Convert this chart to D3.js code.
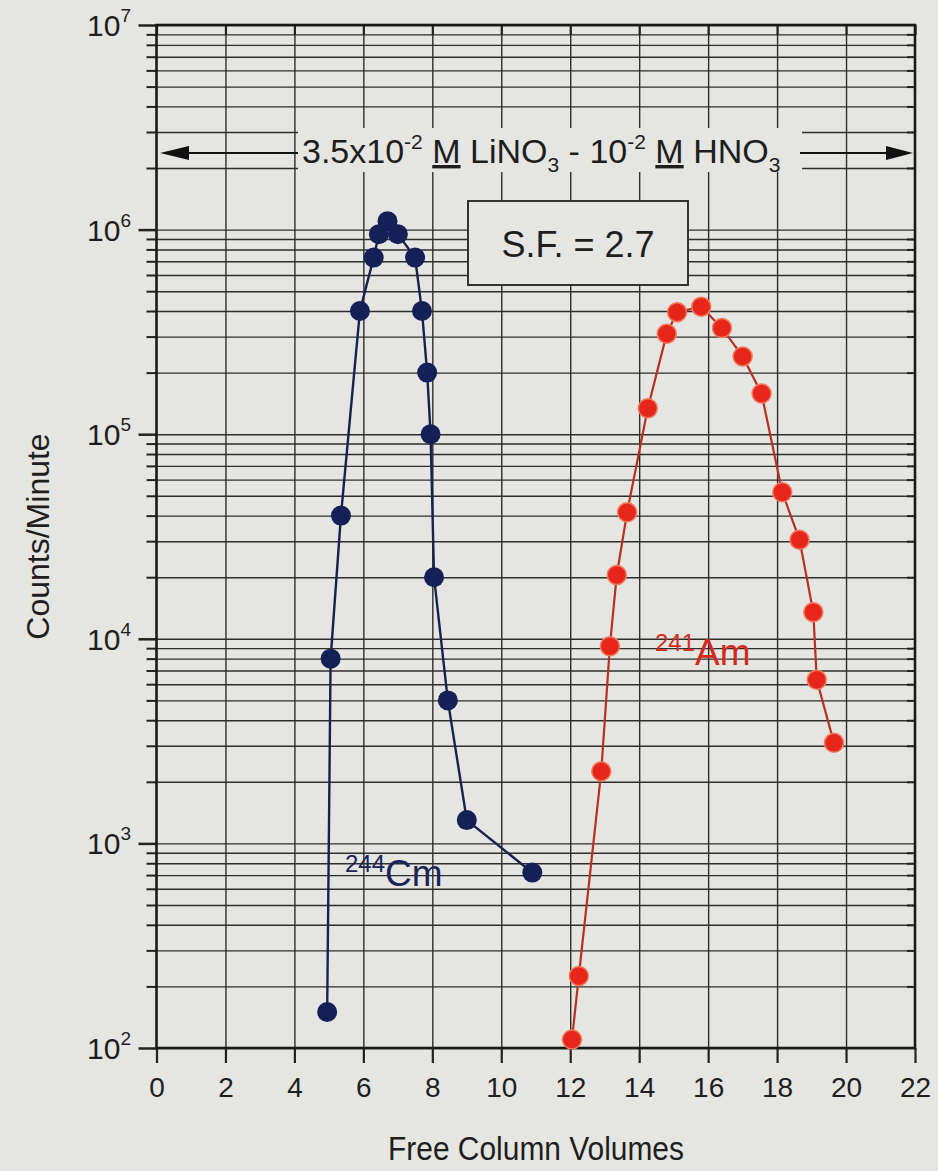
<!DOCTYPE html>
<html>
<head>
<meta charset="utf-8">
<script src="https://cdn.jsdelivr.net/npm/d3@7"></script>
<style>
  body { margin: 0; background: #e5e5e2; }
  svg text { font-family: "Liberation Sans", Arial, sans-serif; fill: #1e1e1e; }
</style>
</head>
<body>
<div id="chart"></div>
<script>
// Data
var cmX = [4.95, 5.05, 5.35, 5.9, 6.3, 6.45, 6.7, 7.0, 7.5, 7.7, 7.85, 7.95, 8.05, 8.45, 9.0, 10.9];
var cmY = [150, 8000, 40000, 400000, 730000, 950000, 1100000, 950000, 730000, 400000, 200000, 100000, 20000, 5000, 1300, 720];
var amX = [12.05, 12.25, 12.9, 13.15, 13.35, 13.65, 14.25, 14.8, 15.1, 15.8, 16.4, 17.0, 17.55, 18.15, 18.65, 19.05, 19.15, 19.65];
var amY = [110, 225, 2250, 9200, 20500, 41500, 134000, 310000, 395000, 420000, 330000, 240000, 158000, 52000, 30500, 13500, 6300, 3100];
var xTicks = [0, 2, 4, 6, 8, 10, 12, 14, 16, 18, 20, 22];
var yMajor = [2, 3, 4, 5, 6, 7];   // exponents of ten

// Set the dimensions of the SVG
var svgWidth = 938;
var svgHeight = 1171;
var plot = { left: 156.5, right: 915, top: 25, bottom: 1048 };

var svg = d3.select("#chart")
  .append("svg")
  .attr("width", svgWidth)
  .attr("height", svgHeight);

var xScale = d3.scaleLinear().domain([0, 22]).range([plot.left, plot.right]);
var yScale = d3.scaleLog().domain([1e2, 1e7]).range([plot.bottom, plot.top]);

// minor values 2..9 in every decade
var yMinor = [];
for (var e = 2; e < 7; e++) {
  for (var m = 2; m <= 9; m++) yMinor.push(m * Math.pow(10, e));
}
var yAllLines = yMinor.concat(yMajor.map(d => Math.pow(10, d)));

// Horizontal grid lines
svg.append("g")
  .attr("transform", `translate(${plot.left}, 0)`)
  .call(d3.axisLeft(yScale).tickValues(yAllLines).tickSize(-(plot.right - plot.left)).tickFormat(""))
  .call(g => g.select(".domain").remove())
  .call(g => g.selectAll("line").attr("stroke", "#2e2e2e").attr("stroke-width", 1.4));

// Vertical grid lines
svg.append("g")
  .attr("transform", `translate(0, ${plot.bottom})`)
  .call(d3.axisBottom(xScale).tickValues(xTicks.slice(1, -1)).tickSize(-(plot.bottom - plot.top)).tickFormat(""))
  .call(g => g.select(".domain").remove())
  .call(g => g.selectAll("line").attr("stroke", "#2e2e2e").attr("stroke-width", 1.4));

// Background patch behind the eluent annotation
svg.append("rect")
  .attr("x", 298).attr("y", 128)
  .attr("width", 504).attr("height", 44)
  .attr("fill", "#e5e5e2");

// Left axis ticks (outer)
svg.append("g")
  .attr("transform", `translate(${plot.left}, 0)`)
  .call(d3.axisLeft(yScale).tickValues(yMinor).tickSize(10).tickFormat(""))
  .call(g => g.select(".domain").remove())
  .call(g => g.selectAll("line").attr("stroke", "#222").attr("stroke-width", 2));

svg.append("g")
  .attr("transform", `translate(${plot.left}, 0)`)
  .call(d3.axisLeft(yScale).tickValues(yMajor.map(d => Math.pow(10, d))).tickSize(18).tickFormat(""))
  .call(g => g.select(".domain").remove())
  .call(g => g.selectAll("line").attr("stroke", "#222").attr("stroke-width", 2.5));

// Right axis ticks (inner)
svg.append("g")
  .attr("transform", `translate(${plot.right}, 0)`)
  .call(d3.axisLeft(yScale).tickValues(yMinor).tickSize(8).tickFormat(""))
  .call(g => g.select(".domain").remove())
  .call(g => g.selectAll("line").attr("stroke", "#222").attr("stroke-width", 2));

// Bottom axis ticks + labels
svg.append("g")
  .attr("transform", `translate(0, ${plot.bottom})`)
  .call(d3.axisBottom(xScale).tickValues(xTicks).tickSize(15).tickPadding(14))
  .call(g => g.select(".domain").remove())
  .call(g => g.selectAll("line").attr("stroke", "#222").attr("stroke-width", 2.2))
  .call(g => g.selectAll("text").attr("font-size", 28).attr("fill", "#1e1e1e"));

// Top axis ticks (inner)
svg.append("g")
  .attr("transform", `translate(0, ${plot.top})`)
  .call(d3.axisBottom(xScale).tickValues(xTicks).tickSize(10).tickFormat(""))
  .call(g => g.select(".domain").remove())
  .call(g => g.selectAll("line").attr("stroke", "#222").attr("stroke-width", 2.2));

// Frame
svg.append("rect")
  .attr("x", plot.left).attr("y", plot.top)
  .attr("width", plot.right - plot.left).attr("height", plot.bottom - plot.top)
  .attr("fill", "none").attr("stroke", "#1a1a1a").attr("stroke-width", 2.6);

// Y tick labels: 10^n
var yLabels = svg.append("g").selectAll("text")
  .data(yMajor)
  .enter()
  .append("text")
  .attr("x", 131)
  .attr("y", d => yScale(Math.pow(10, d)) + 11)
  .attr("text-anchor", "end")
  .attr("font-size", 30);
yLabels.append("tspan").text("10");
yLabels.append("tspan").attr("font-size", 19).attr("dy", -14).text(d => d);

// Axis titles
svg.append("text")
  .attr("transform", `translate(49, ${(plot.top + plot.bottom) / 2}) rotate(-90)`)
  .attr("text-anchor", "middle")
  .attr("font-size", 32)
  .text("Counts/Minute");

svg.append("text")
  .attr("transform", "translate(536, 1160) scale(0.88, 1)")
  .attr("text-anchor", "middle")
  .attr("font-size", 34)
  .text("Free Column Volumes");

// Eluent annotation with arrows
var arrowY = 153;
svg.append("line")
  .attr("x1", 185).attr("x2", 298).attr("y1", arrowY).attr("y2", arrowY)
  .attr("stroke", "#111").attr("stroke-width", 2);
svg.append("path")
  .attr("d", `M160,${arrowY} L189,${arrowY - 7} L189,${arrowY + 7} Z`)
  .attr("fill", "#111");
svg.append("line")
  .attr("x1", 800).attr("x2", 890).attr("y1", arrowY).attr("y2", arrowY)
  .attr("stroke", "#111").attr("stroke-width", 2);
svg.append("path")
  .attr("d", `M913,${arrowY} L886,${arrowY - 7} L886,${arrowY + 7} Z`)
  .attr("fill", "#111");

var eluent = svg.append("text")
  .attr("x", 302).attr("y", 163)
  .attr("font-size", 34);
eluent.append("tspan").text("3.5x10");
eluent.append("tspan").attr("font-size", 21).attr("dy", -14).text("-2");
eluent.append("tspan").attr("dy", 14).text(" ");
eluent.append("tspan").attr("text-decoration", "underline").text("M");
eluent.append("tspan").text(" LiNO");
eluent.append("tspan").attr("font-size", 21).attr("dy", 9).text("3");
eluent.append("tspan").attr("dy", -9).text(" - 10");
eluent.append("tspan").attr("font-size", 21).attr("dy", -14).text("-2");
eluent.append("tspan").attr("dy", 14).text(" ");
eluent.append("tspan").attr("text-decoration", "underline").text("M");
eluent.append("tspan").text(" HNO");
eluent.append("tspan").attr("font-size", 21).attr("dy", 9).text("3");

// S.F. box
svg.append("rect")
  .attr("x", 468).attr("y", 201)
  .attr("width", 220).attr("height", 84)
  .attr("fill", "#e5e5e2").attr("stroke", "#333").attr("stroke-width", 2);
svg.append("text")
  .attr("x", 578).attr("y", 257)
  .attr("text-anchor", "middle")
  .attr("font-size", 36)
  .text("S.F. = 2.7");

// Series
var cmData = cmX.map((d, i) => ({ x: d, y: cmY[i] }));
var amData = amX.map((d, i) => ({ x: d, y: amY[i] }));

var line = d3.line()
  .x(d => xScale(d.x))
  .y(d => yScale(d.y));

svg.append("path")
  .datum(cmData)
  .attr("d", line)
  .attr("fill", "none")
  .attr("stroke", "#19224f")
  .attr("stroke-width", 2.4);

svg.append("path")
  .datum(amData)
  .attr("d", line)
  .attr("fill", "none")
  .attr("stroke", "#b8301f")
  .attr("stroke-width", 2.2);

svg.append("g")
  .selectAll("circle")
  .data(cmData)
  .enter()
  .append("circle")
  .attr("cx", d => xScale(d.x))
  .attr("cy", d => yScale(d.y))
  .attr("r", 10)
  .attr("fill", "#152057");

svg.append("g")
  .selectAll("circle")
  .data(amData)
  .enter()
  .append("circle")
  .attr("cx", d => xScale(d.x))
  .attr("cy", d => yScale(d.y))
  .attr("r", 9.5)
  .attr("fill", "#e6261a")
  .attr("stroke", "#f27a5c")
  .attr("stroke-width", 1.5);

// Series labels
var cmLabel = svg.append("text")
  .attr("x", 345).attr("y", 886)
  .attr("font-size", 37)
  .style("fill", "#1b2458");
cmLabel.append("tspan").attr("font-size", 24).attr("dy", -14).text("244");
cmLabel.append("tspan").attr("dy", 14).text("Cm");

var amLabel = svg.append("text")
  .attr("x", 655).attr("y", 665)
  .attr("font-size", 37)
  .style("fill", "#d42a1c");
amLabel.append("tspan").attr("font-size", 24).attr("dy", -14).text("241");
amLabel.append("tspan").attr("dy", 14).text("Am");
</script>
</body>
</html>
